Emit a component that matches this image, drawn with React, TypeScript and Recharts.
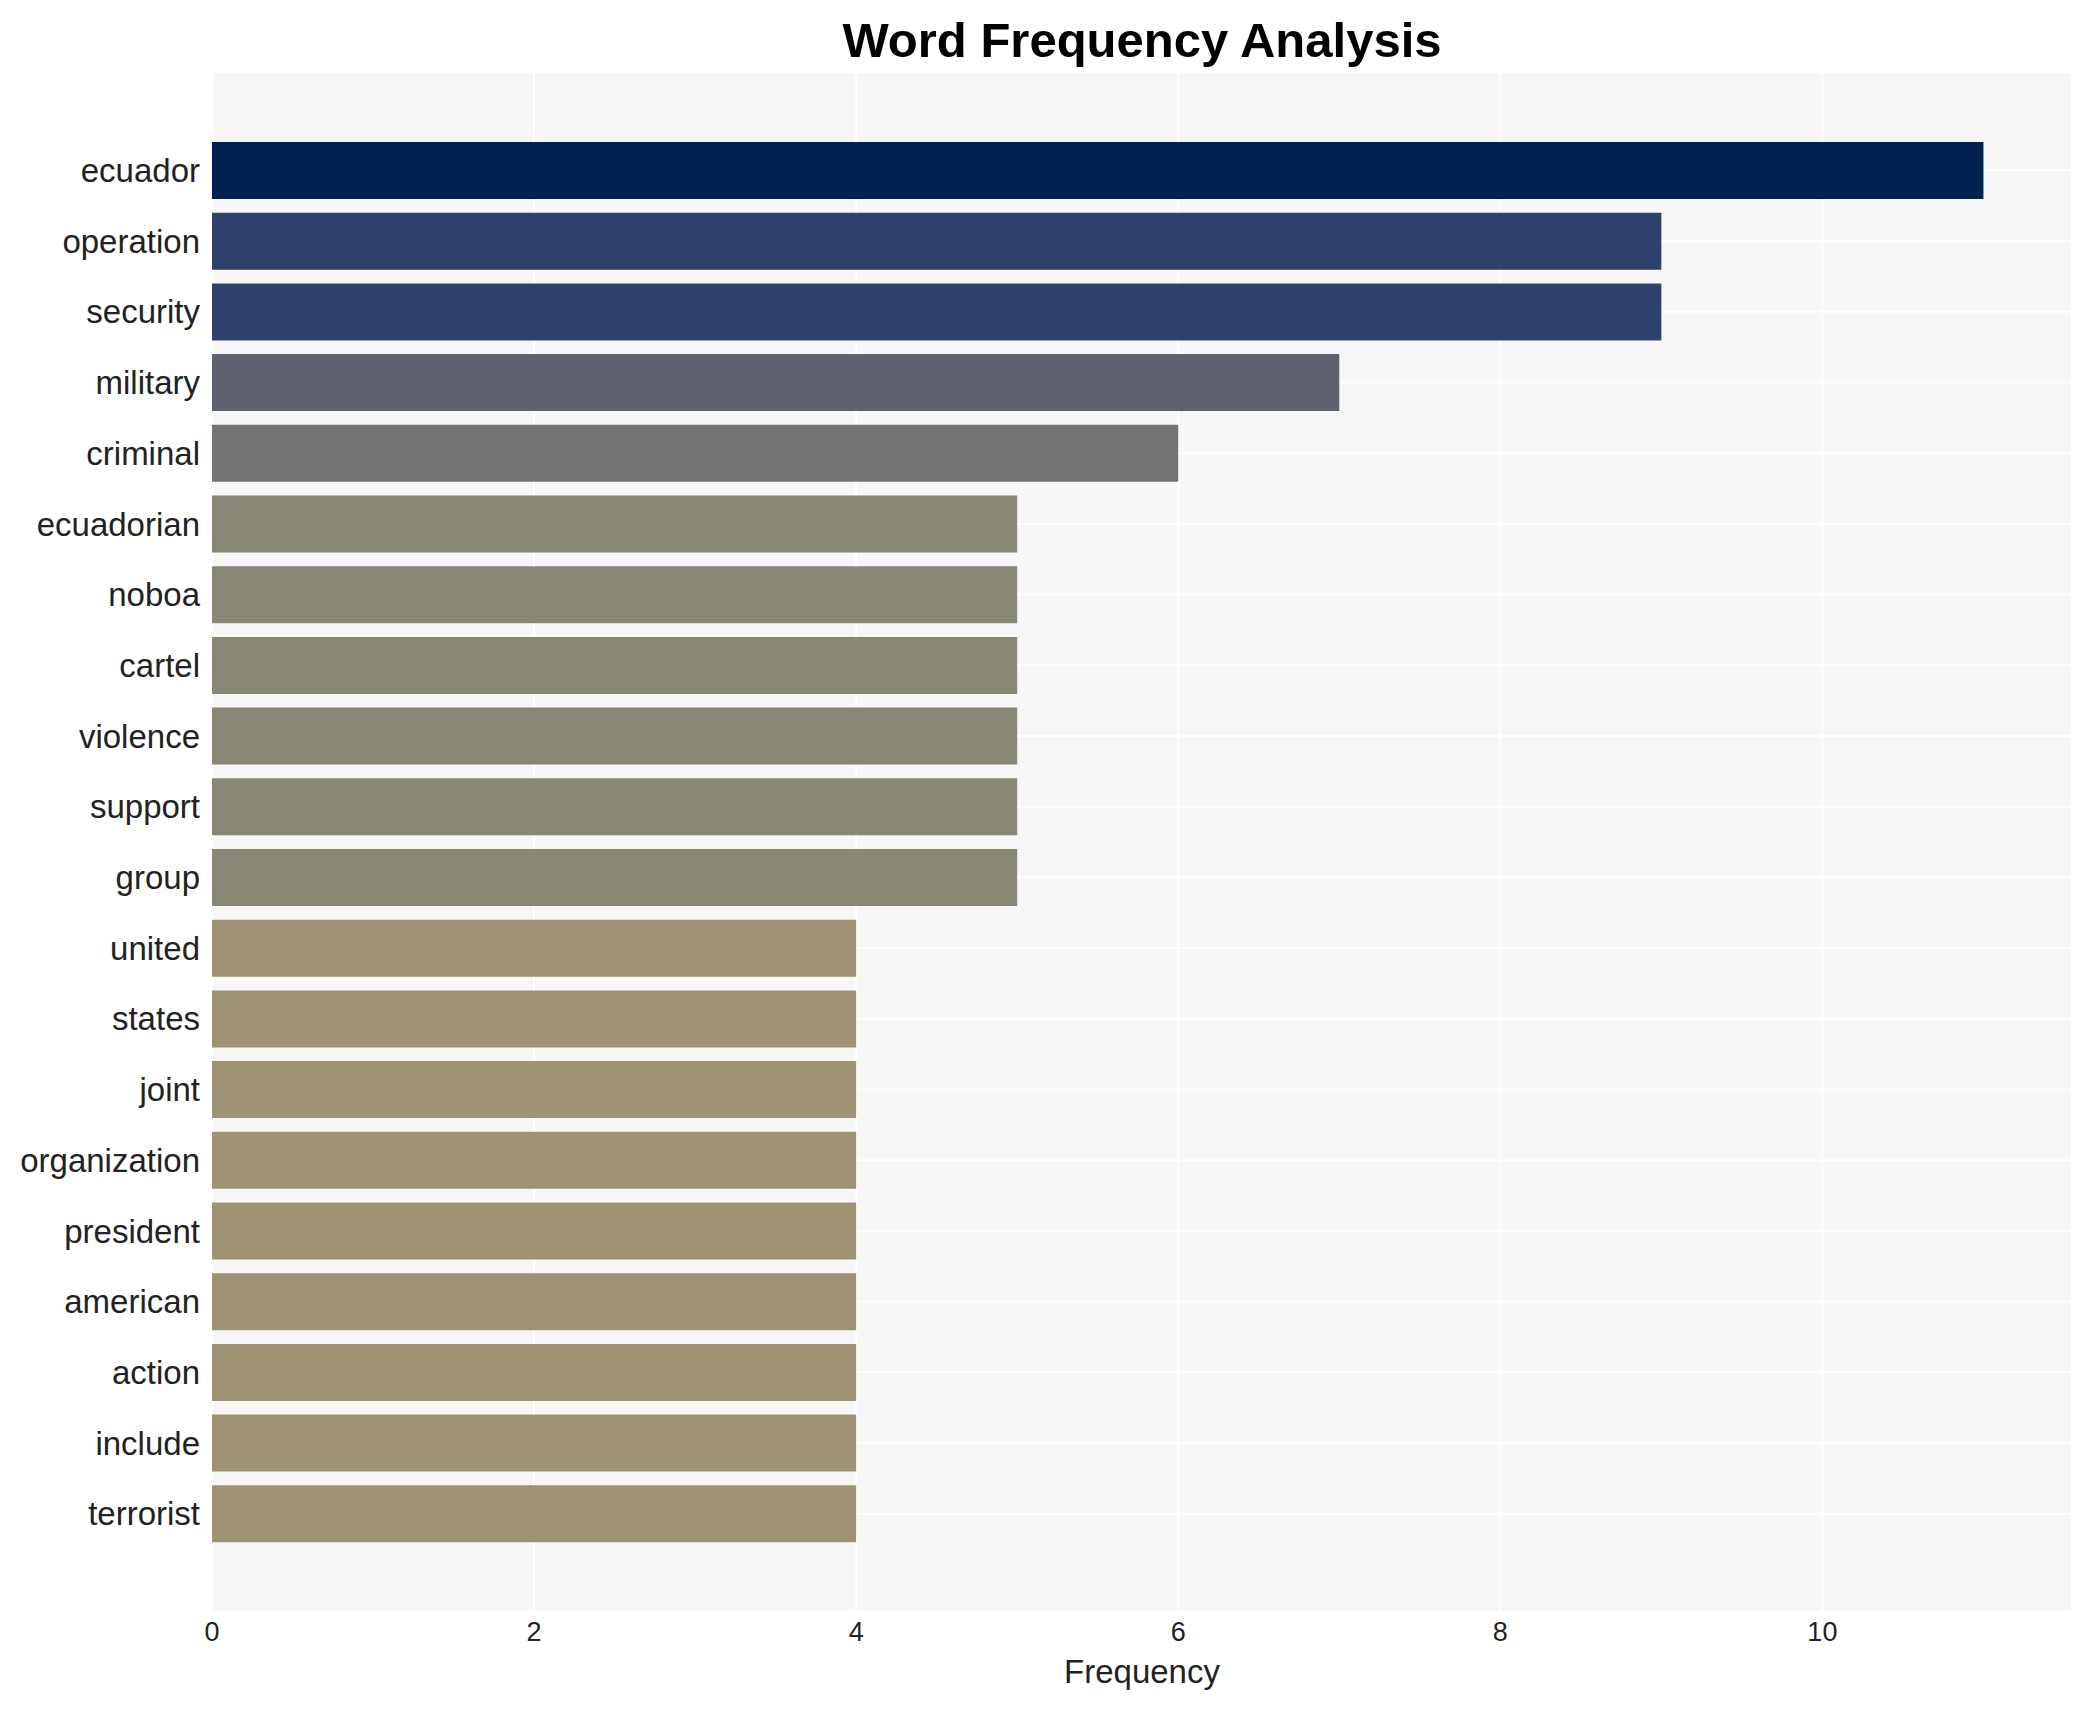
import React from 'react';
import {
  BarChart,
  Bar,
  XAxis,
  YAxis,
  CartesianGrid,
  Cell,
} from 'recharts';

const words = [
  'ecuador',
  'operation',
  'security',
  'military',
  'criminal',
  'ecuadorian',
  'noboa',
  'cartel',
  'violence',
  'support',
  'group',
  'united',
  'states',
  'joint',
  'organization',
  'president',
  'american',
  'action',
  'include',
  'terrorist',
];

const counts = [11, 9, 9, 7, 6, 5, 5, 5, 5, 5, 5, 4, 4, 4, 4, 4, 4, 4, 4, 4];

const xTicks = [0, 2, 4, 6, 8, 10];

// cividis-like fill, picked by count
const fillFor = (v: number) => {
  if (v >= 11) return '#002251';
  if (v >= 9) return '#2E416B';
  if (v >= 7) return '#5E626F';
  if (v >= 6) return '#737374';
  if (v >= 5) return '#898775';
  return '#9E9473';
};

const FONT = '"Liberation Sans", Arial, Helvetica, sans-serif';

const data = words.map((word, i) => ({ word, count: counts[i] }));

export default function App() {
  return (
    <div
      style={{
        position: 'absolute',
        left: 0,
        top: 0,
        width: 2091,
        height: 1710,
        background: '#fff',
        fontFamily: FONT,
      }}
    >
      <svg
        width={2091}
        height={80}
        style={{ position: 'absolute', left: 0, top: 0 }}
      >
        <text
          x={1142}
          y={57}
          textAnchor="middle"
          fontFamily={FONT}
          fontWeight="bold"
          fontSize={49}
          fill="#000"
        >
          Word Frequency Analysis
        </text>
      </svg>
      <div style={{ position: 'absolute', left: 0, top: 0 }}>
        <BarChart
          width={2091}
          height={1710}
          data={data}
          layout="vertical"
          margin={{ top: 72, right: 19, bottom: 0, left: 0 }}
        >
          <CartesianGrid
            fill="#F7F7F7"
            stroke="#FFFFFF"
            strokeWidth={2}
          />
          <XAxis
            type="number"
            domain={[0, 11.55]}
            ticks={xTicks}
            height={98}
            axisLine={false}
            tickLine={false}
            tickSize={6}
            tickMargin={4}
            tick={{ fontSize: 27, fill: '#222', fontFamily: FONT }}
            label={{
              value: 'Frequency',
              position: 'insideBottom',
              offset: 27,
              fontSize: 33,
              fill: '#222',
              fontFamily: FONT,
            }}
          />
          <YAxis
            type="category"
            dataKey="word"
            width={212}
            axisLine={false}
            tickLine={false}
            tickSize={6}
            tickMargin={6}
            interval={0}
            padding={{ top: 63, bottom: 63 }}
            tick={{ fontSize: 33, fill: '#222', fontFamily: FONT }}
          />
          <Bar dataKey="count" barSize={57} isAnimationActive={false}>
            {data.map((d, i) => (
              <Cell key={`c-${i}`} fill={fillFor(d.count)} />
            ))}
          </Bar>
        </BarChart>
      </div>
    </div>
  );
}
